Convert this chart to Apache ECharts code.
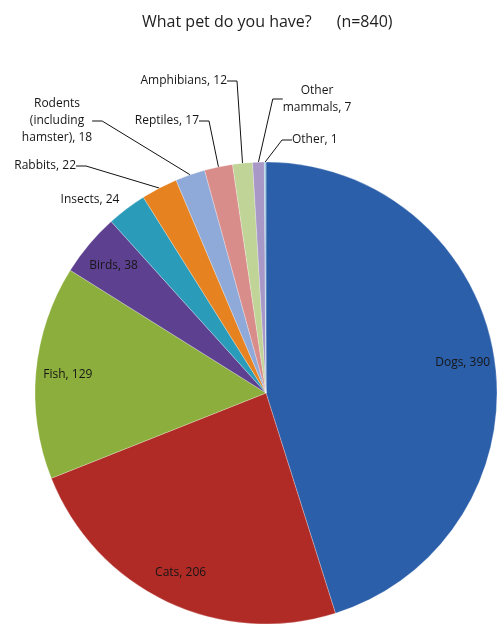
<!DOCTYPE html>
<html>
<head>
<meta charset="utf-8">
<script src="https://cdn.jsdelivr.net/npm/echarts@6/dist/echarts.min.js"></script>
<style>
  html, body { margin: 0; padding: 0; background: #fff; }
  #chart { width: 500px; height: 628px; }
</style>
</head>
<body>
<div id="chart"></div>
<script>
const petNames = ['Dogs', 'Cats', 'Fish', 'Birds', 'Insects', 'Rabbits',
  'Rodents\n(including\nhamster)', 'Reptiles', 'Amphibians', 'Other\nmammals', 'Other']
const petCounts = [390, 206, 129, 38, 24, 22, 18, 17, 12, 7, 1]
const sliceColors = ['#2c5fa9', '#b02b26', '#8cae3c', '#5d4190', '#2b9bba', '#e6821f',
  '#8faad8', '#d98d8b', '#bfd496', '#a898c8', '#93c6e0']

// where the outside labels sit (Excel placed them by hand-ish)
const outsideLabelPos = {
  'Insects': { x: 90, y: 200, align: 'center' },
  'Rabbits': { x: 76, y: 166, align: 'right' },
  'Rodents\n(including\nhamster)': { x: 57, y: 121, align: 'center' },
  'Reptiles': { x: 199, y: 121, align: 'right' },
  'Amphibians': { x: 227, y: 81, align: 'right' },
  'Other\nmammals': { x: 317, y: 99, align: 'center' },
  'Other': { x: 292, y: 140, align: 'left' }
}

const chart = echarts.init(document.getElementById('chart'))

const labelFont = { fontFamily: 'Open Sans', fontSize: 12, color: '#161616' }

const mainData = petNames.map((name, i) => ({
  name,
  value: petCounts[i],
  itemStyle: { color: sliceColors[i] },
  label: { show: i >= 4 },
  labelLine: { show: i >= 5 }
}))

const innerLabelData = petNames.map((name, i) => ({
  name,
  value: petCounts[i],
  label: { show: i < 4 }
}))

chart.setOption({
  animation: false,
  title: {
    text: 'What pet do you have?      (n=840)',
    left: 137,
    top: 9,
    textStyle: { fontFamily: 'Open Sans', fontSize: 16, fontWeight: 'normal', color: '#1e1e1e' }
  },
  series: [
    {
      type: 'pie',
      center: [266, 393],
      radius: [0, 231],
      startAngle: 90,
      avoidLabelOverlap: false,
      itemStyle: { borderColor: 'rgba(255,255,255,0.5)', borderWidth: 0.5 },
      label: Object.assign({
        position: 'outside',
        formatter: p => p.name + ', ' + p.value,
        lineHeight: 17
      }, labelFont),
      labelLine: {
        show: true,
        length: 10,
        length2: 10,
        lineStyle: { color: '#111', width: 1 }
      },
      labelLayout: params => {
        const pos = outsideLabelPos[petNames[params.dataIndex]]
        if (!pos) return {}
        return { x: pos.x, y: pos.y, align: pos.align, verticalAlign: 'middle' }
      },
      emphasis: { disabled: true },
      data: mainData
    },
    {
      type: 'pie',
      center: [266, 393],
      radius: [161, 231],
      startAngle: 90,
      silent: true,
      itemStyle: { color: 'rgba(0,0,0,0)' },
      label: Object.assign({
        position: 'inside',
        formatter: p => p.name + ', ' + p.value
      }, labelFont),
      labelLine: { show: false },
      data: innerLabelData
    }
  ]
})
</script>
</body>
</html>
